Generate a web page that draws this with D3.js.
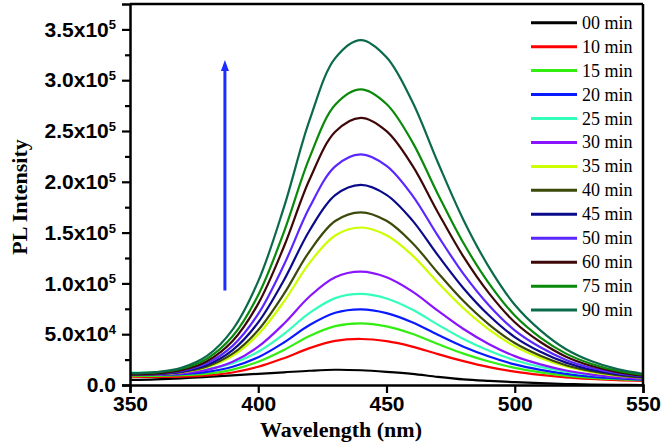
<!DOCTYPE html>
<html>
<head>
<meta charset="utf-8">
<script src="https://cdn.jsdelivr.net/npm/d3@7/dist/d3.min.js"></script>
<style>
  html, body { margin: 0; padding: 0; background: #fff; }
  svg { display: block; }
</style>
</head>
<body>
<svg id="chart" width="662" height="446"></svg>
<script>
// ---------------- DATA ----------------
const wavelengths = [350,360,370,380,390,400,410,420,430,440,450,460,470,480,490,500,510,520,530,540,550];

const seriesNames = ["00 min","10 min","15 min","20 min","25 min","30 min","35 min","40 min","45 min","50 min","60 min","75 min","90 min"];
const seriesColors = ["#000000","#ff0000","#33ee11","#0a1aff","#33ffbb","#8a14ff","#ccff00","#3b4a0a","#0a0a8a","#5a28ff","#3e0808","#0a8a0a","#0a6a4a"];

const s00 = [5000,5500,6500,8000,9500,11000,12500,14000,15000,14500,13000,11000,8000,5500,4000,2800,1800,1000,500,200,0];
const s10 = [8100,8000,8300,9500,12300,17900,26400,36300,43400,45300,43100,37800,30400,23500,17600,13100,9900,7500,5900,4700,4000];
const s15 = [9100,9000,9600,11200,15200,22900,34500,48200,57900,60700,57700,50400,40400,30900,23100,16900,12500,9300,7100,5700,4700];
const s20 = [10100,10100,10700,12900,17900,27300,41800,59000,71100,74500,70800,61800,49400,37700,28000,20300,14900,11000,8300,6500,5300];
const s25 = [12200,12100,12900,15400,21500,32800,50200,70900,85500,89600,85200,74300,59400,45300,33700,24400,17900,13200,9900,7900,6400];
const s30 = [10200,10300,11500,14900,22900,37700,60300,87100,106100,111500,106000,92100,73100,55100,40200,28400,20300,14300,10300,7700,6100];
const s35 = [10300,10600,12400,17400,28700,49900,82100,120200,147200,155000,147300,127800,100900,75500,54500,38000,26600,18200,12700,9200,7000];
const s40 = [10300,10700,12700,18200,30800,54100,89600,131600,161400,170000,161600,140100,110500,82600,59500,41300,28800,19500,13600,9700,7300];
const s45 = [10400,10800,13200,19700,34400,61600,103100,152100,186900,197000,187200,162300,127800,95300,68400,47200,32700,22000,15000,10600,7800];
const s50 = [10400,11000,13800,21400,38500,70000,118100,174900,215200,227000,215700,186900,147000,109400,78300,53800,37100,24700,16700,11600,8400];
const s60 = [10500,11200,14500,23400,43300,80100,136100,202200,249200,263000,249900,216400,170100,126300,90200,61800,42300,27900,18700,12700,9100];
const s75 = [11600,12400,16000,25900,47900,88600,150500,223800,275800,291000,276600,239500,188100,139700,99800,68400,46700,30900,20700,14000,10100];
const s90 = [11700,12700,16900,28600,54500,102200,174800,260600,321700,339500,322600,279200,219200,162500,115800,79000,53800,35200,23300,15600,11000];

const seriesValues = [s00,s10,s15,s20,s25,s30,s35,s40,s45,s50,s60,s75,s90];

const xTicks = [350,400,450,500,550];
const yTicks = [0,50000,100000,150000,200000,250000,300000,350000];
const yTickMantissa = ["0.0","5.0x10","1.0x10","1.5x10","2.0x10","2.5x10","3.0x10","3.5x10"];
const yTickExponent = ["","4","5","5","5","5","5","5"];
const yMinorTicks = [25000,75000,125000,175000,225000,275000,325000];

const xDomain = [350,550];
const yDomain = [0,375000];

// arrow annotation (data coordinates)
const arrowX = 387;
const arrowFrom = 93000;
const arrowTo = 320000;

const xTitle = "Wavelength (nm)";
const yTitle = "PL Intensity";

// ---------------- LAYOUT ----------------
const svg = d3.select("#chart");
const L = 130, R = 643, T = 4, B = 385;

const x = d3.scaleLinear().domain(xDomain).range([L, R]);
const y = d3.scaleLinear().domain(yDomain).range([B, T]);

const sansBold = "'Liberation Sans', Arial, Helvetica, sans-serif";
const serif = "'Liberation Serif', 'Times New Roman', Times, serif";

svg.append("defs").append("clipPath").attr("id","clip")
  .append("rect").attr("x",L).attr("y",T).attr("width",R-L).attr("height",B-T);

// curves
const line = d3.line()
  .x((d,i) => x(wavelengths[i]))
  .y(d => y(d))
  .curve(d3.curveCatmullRom.alpha(0.5));

const gCurves = svg.append("g").attr("clip-path","url(#clip)");
seriesValues.forEach((vals, k) => {
  gCurves.append("path")
    .datum(vals)
    .attr("d", line)
    .attr("fill","none")
    .attr("stroke", seriesColors[k])
    .attr("stroke-width", 2.2)
    .attr("stroke-linejoin","round");
});

// frame (top and right)
svg.append("line").attr("x1",L).attr("x2",R).attr("y1",T).attr("y2",T)
  .attr("stroke","#000").attr("stroke-width",2.5);
svg.append("line").attr("x1",R).attr("x2",R).attr("y1",T).attr("y2",B)
  .attr("stroke","#000").attr("stroke-width",2.5);

// x axis
const xAxis = d3.axisBottom(x).tickValues(xTicks).tickSize(8).tickPadding(3).tickFormat(d3.format("d"));
const gx = svg.append("g").attr("transform",`translate(0,${B})`).call(xAxis);
gx.select(".domain").attr("stroke","#000").attr("stroke-width",2.5);
gx.selectAll(".tick line").attr("stroke","#000").attr("stroke-width",2.2);
gx.selectAll(".tick text")
  .attr("font-family", sansBold).attr("font-weight","bold").attr("font-size","21px").attr("fill","#000");

// y axis
const yAxis = d3.axisLeft(y).tickValues(yTicks).tickSize(8).tickPadding(7).tickFormat(() => "");
const gy = svg.append("g").attr("transform",`translate(${L},0)`).call(yAxis);
gy.select(".domain").attr("stroke","#000").attr("stroke-width",2.5);
gy.selectAll(".tick line").attr("stroke","#000").attr("stroke-width",2.2);
gy.selectAll(".tick text")
  .attr("font-family", sansBold).attr("font-weight","bold").attr("font-size","21px").attr("fill","#000")
  .each(function(d, i) {
    const t = d3.select(this);
    t.text(null);
    t.append("tspan").text(yTickMantissa[i]);
    if (yTickExponent[i]) {
      t.append("tspan").attr("dy","-0.55em").attr("font-size","13px").text(yTickExponent[i]);
    }
  });
gy.selectAll(".tick text").attr("x", -14);

const yMinor = d3.axisLeft(y).tickValues(yMinorTicks).tickSize(5).tickFormat(() => "");
const gym = svg.append("g").attr("transform",`translate(${L},0)`).call(yMinor);
gym.select(".domain").remove();
gym.selectAll(".tick line").attr("stroke","#000").attr("stroke-width",2.2);

// axis titles
svg.append("text")
  .attr("x", 341).attr("y", 437)
  .attr("text-anchor","middle")
  .attr("font-family", serif).attr("font-weight","bold").attr("font-size","22px")
  .text(xTitle);

svg.append("text")
  .attr("transform","translate(27,197) rotate(-90)")
  .attr("text-anchor","middle")
  .attr("font-family", serif).attr("font-weight","bold").attr("font-size","22px")
  .text(yTitle);

// arrow
const ax = x(arrowX), ay1 = y(arrowFrom), ay2 = y(arrowTo);
svg.append("line").attr("x1",ax).attr("x2",ax).attr("y1",ay1).attr("y2",ay2+8)
  .attr("stroke","#1a2cff").attr("stroke-width",3);
svg.append("path")
  .attr("d",`M${ax},${ay2} L${ax-4},${ay2+11} L${ax+4},${ay2+11} Z`)
  .attr("fill","#1a2cff");

// legend
const legX1 = 531, legX2 = 577, legTextX = 582, legY0 = 22.7, legDy = 23.95;
const gLeg = svg.append("g");
seriesNames.forEach((name, k) => {
  const yy = legY0 + k*legDy;
  gLeg.append("line").attr("x1",legX1).attr("x2",legX2).attr("y1",yy).attr("y2",yy)
    .attr("stroke", seriesColors[k]).attr("stroke-width",3);
  gLeg.append("text").attr("x",legTextX).attr("y",yy+6)
    .attr("font-family", serif).attr("font-size","18px").attr("fill","#000")
    .text(name);
});
</script>
</body>
</html>
